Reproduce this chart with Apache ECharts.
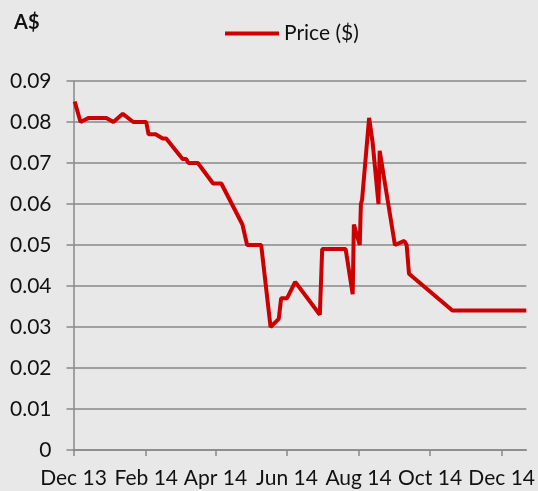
<!DOCTYPE html>
<html>
<head>
<meta charset="utf-8">
<script src="https://cdn.jsdelivr.net/npm/echarts@6/dist/echarts.min.js"></script>
<style>
html,body{margin:0;padding:0;background:#e8e8e8;}
#chart{width:538px;height:491px;}
</style>
</head>
<body>
<div id="chart"></div>
<script>
// Data
const dates = [
  '2013-12-02','2013-12-07','2013-12-14','2013-12-29','2014-01-04','2014-01-12','2014-01-21',
  '2014-02-01','2014-02-03','2014-02-09','2014-02-15','2014-02-18','2014-03-04','2014-03-07',
  '2014-03-09','2014-03-17','2014-03-30','2014-04-06','2014-04-24','2014-04-28','2014-05-10',
  '2014-05-18','2014-05-25','2014-05-27','2014-06-01','2014-06-08','2014-06-29','2014-07-01',
  '2014-07-21','2014-07-27','2014-07-28','2014-08-02','2014-08-03','2014-08-04','2014-08-10',
  '2014-08-13','2014-08-18','2014-08-19','2014-09-01','2014-09-09','2014-09-11','2014-09-13',
  '2014-10-20','2014-12-22'
];
const prices = [
  0.085,0.080,0.081,0.081,0.080,0.082,0.080,
  0.080,0.077,0.077,0.076,0.076,0.071,0.071,
  0.070,0.070,0.065,0.065,0.055,0.050,0.050,
  0.030,0.032,0.037,0.037,0.041,0.033,0.049,
  0.049,0.038,0.055,0.050,0.060,0.061,0.081,
  0.075,0.060,0.073,0.050,0.051,0.050,0.043,
  0.034,0.034
];
const tickDates = ['2013-12-01','2014-02-01','2014-04-01','2014-06-01','2014-08-01','2014-10-01','2014-12-01'];
const monthNames = ['Jan','Feb','Mar','Apr','May','Jun','Jul','Aug','Sep','Oct','Nov','Dec'];
const seriesName = 'Price ($)';
const yUnit = 'A$';
const xStart = '2013-12-01';
const xEnd = '2014-12-22';

function parseUTC(s){ const p = s.split('-').map(Number); return Date.UTC(p[0], p[1]-1, p[2]); }
const tickTimes = tickDates.map(parseUTC);
const seriesData = dates.map((d,i)=>[parseUTC(d), prices[i]]);

const FONT = 'Lato';
const chart = echarts.init(document.getElementById('chart'), null, {renderer:'canvas'});
chart.setOption({
  backgroundColor: '#e8e8e8',
  animation: false,
  textStyle: {fontFamily: FONT},
  title: {
    text: yUnit, left: 9, top: 8,
    textStyle: {fontFamily: FONT, fontSize: 20, fontWeight: 'bold', color: '#111'}
  },
  legend: {
    left: 220, top: 18,
    icon: 'rect', itemWidth: 54, itemHeight: 4, itemGap: 10,
    textStyle: {fontFamily: FONT, fontSize: 21, color: '#111'},
    data: [seriesName]
  },
  grid: {left: 73.5, right: 11, top: 81, bottom: 41},
  xAxis: {
    type: 'value',
    min: parseUTC(xStart),
    max: parseUTC(xEnd),
    splitLine: {show: false},
    axisLine: {lineStyle: {color: '#888', width: 1.5}},
    axisTick: {show: true, length: 6, lineStyle: {color: '#888', width: 1.5}, customValues: tickTimes},
    axisLabel: {
      customValues: tickTimes,
      showMinLabel: true, showMaxLabel: true,
      margin: 18, fontFamily: FONT, fontSize: 21, color: '#111',
      formatter: function(v){ const d = new Date(v); return monthNames[d.getUTCMonth()] + ' ' + String(d.getUTCFullYear()).slice(2); }
    }
  },
  yAxis: {
    type: 'value', min: 0, max: 0.09, interval: 0.01,
    axisLine: {show: true, lineStyle: {color: '#888', width: 1.5}},
    axisTick: {show: true, length: 7, lineStyle: {color: '#888', width: 1.5}},
    splitLine: {show: true, lineStyle: {color: '#888', width: 1.5}},
    axisLabel: {
      margin: 22, fontFamily: FONT, fontSize: 21, color: '#111',
      formatter: function(v){ return v === 0 ? '0' : v.toFixed(2); }
    }
  },
  series: [{
    name: seriesName, type: 'line', data: seriesData,
    showSymbol: false, symbol: 'none',
    itemStyle: {color: '#cc0000'},
    lineStyle: {color: '#cc0000', width: 4}
  }]
});
</script>
</body>
</html>
